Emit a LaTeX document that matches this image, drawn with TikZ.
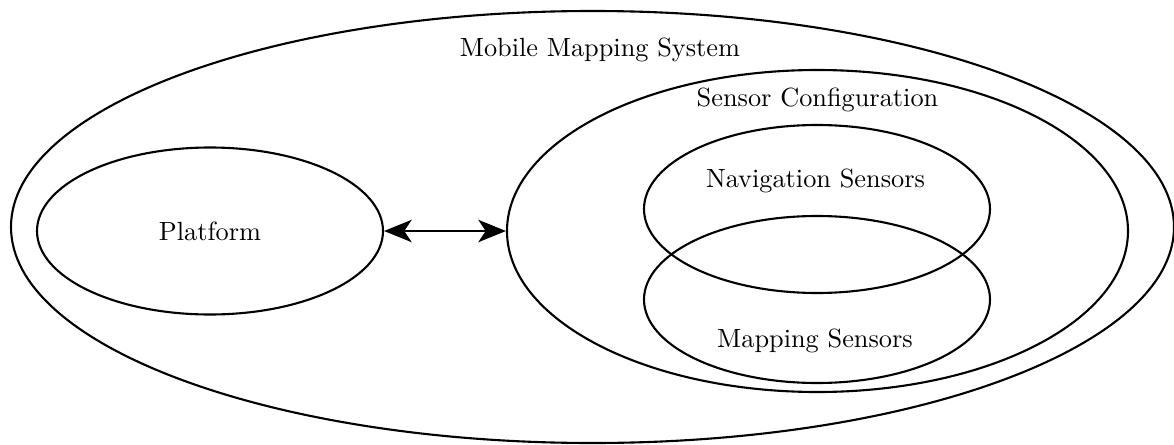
\documentclass[tikz,border=0pt]{standalone}
\usetikzlibrary{shapes.geometric,arrows.meta}
\begin{document}
\begin{tikzpicture}[x=0.38pt,y=-0.38pt,
  blob/.style={ellipse,draw,line width=0.8pt,inner sep=0pt},
  tag/.style={inner sep=0pt,font=\normalsize},
  link/.style={line width=0.8pt,{Stealth[length=10.5pt,width=8.5pt,inset=2.8pt]}-{Stealth[length=10.5pt,width=8.5pt,inset=2.8pt]}}]
  \useasboundingbox (0,0) rectangle (1174,445);

  % outer system boundary
  \node[blob,minimum width=1163*0.38pt,minimum height=432*0.38pt] (mms) at (592.5,227) {};
  \node[tag] (mmslbl) at (600,50) {Mobile Mapping System};

  % platform
  \node[blob,minimum width=346*0.38pt,minimum height=167*0.38pt] (platform) at (210,231) {Platform};

  % sensor configuration with its two overlapping sensor groups
  \node[blob,minimum width=621*0.38pt,minimum height=322*0.38pt] (sensor) at (817.5,231) {};
  \node[tag] (sensorlbl) at (817.5,100) {Sensor Configuration};

  \node[blob,minimum width=346*0.38pt,minimum height=168*0.38pt] (nav) at (817,209) {};
  \node[tag] (navlbl) at (815.5,181) {Navigation Sensors};

  \node[blob,minimum width=346*0.38pt,minimum height=167*0.38pt] (map) at (817,299.5) {};
  \node[tag] (maplbl) at (815,341) {Mapping Sensors};

  % platform <-> sensors
  \draw[link] (platform.east) -- (sensor.west);
\end{tikzpicture}
\end{document}
